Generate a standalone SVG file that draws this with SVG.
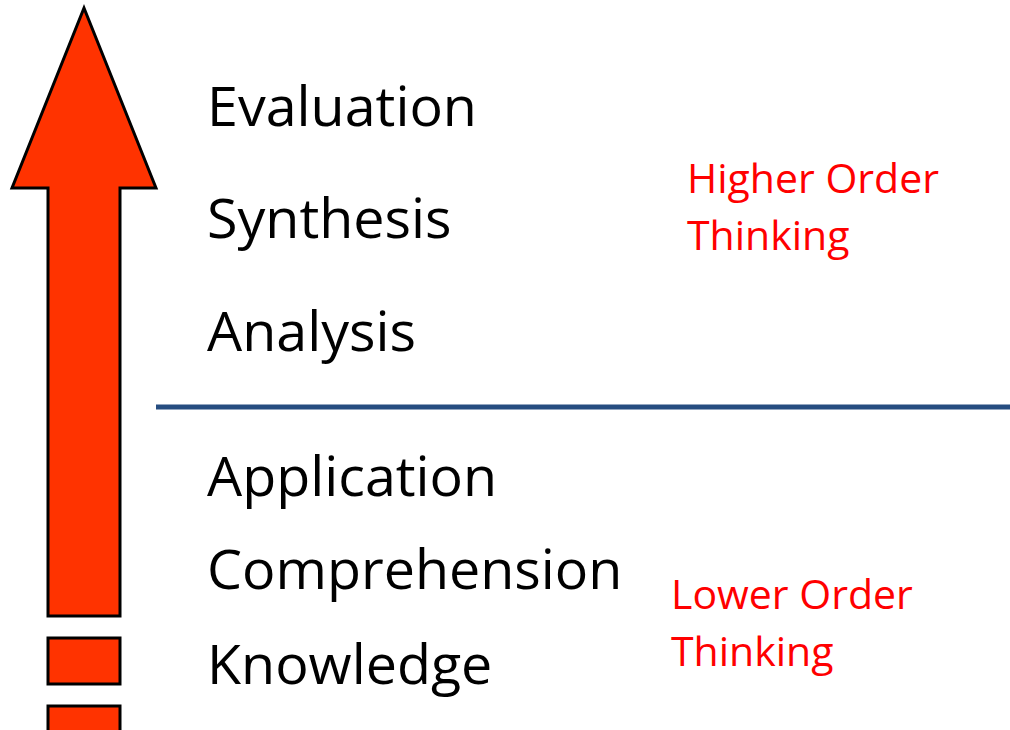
<svg xmlns="http://www.w3.org/2000/svg" width="1010" height="730" viewBox="0 0 1010 730">
<style>
.lvl{font-family:"Open Sans","Noto Sans","Liberation Sans",sans-serif;font-size:55.6px;fill:#000}
.ord{font-family:"Open Sans","Noto Sans","Liberation Sans",sans-serif;font-size:41px;fill:#ff0000}
.blk{fill:#ff3300;stroke:#000;stroke-width:3}
</style>
<rect width="1010" height="730" fill="#fff"/>
<g id="arrow">
<polygon class="blk" points="84,8 156,188 120,188 120,616 48,616 48,188 12,188"/>
<rect class="blk" x="48" y="638" width="72" height="46"/>
<rect class="blk" x="48" y="706" width="72" height="26"/>
</g>
<g id="connectors">
<line x1="156" y1="407" x2="1010" y2="407" stroke="#264d80" stroke-width="5"/>
</g>
<g id="evaluation"><text class="lvl" x="207" y="126">Evaluation</text></g>
<g id="synthesis"><text class="lvl" x="207" y="238">Synthesis</text></g>
<g id="analysis"><text class="lvl" x="207" y="351">Analysis</text></g>
<g id="application"><text class="lvl" x="207" y="496">Application</text></g>
<g id="comprehension"><text class="lvl" x="207" y="589">Comprehension</text></g>
<g id="knowledge"><text class="lvl" x="207" y="684">Knowledge</text></g>
<g id="higher"><text class="ord" x="687" y="193">Higher Order</text><text class="ord" x="687" y="250">Thinking</text></g>
<g id="lower"><text class="ord" x="671" y="609">Lower Order</text><text class="ord" x="671" y="666">Thinking</text></g>
</svg>
